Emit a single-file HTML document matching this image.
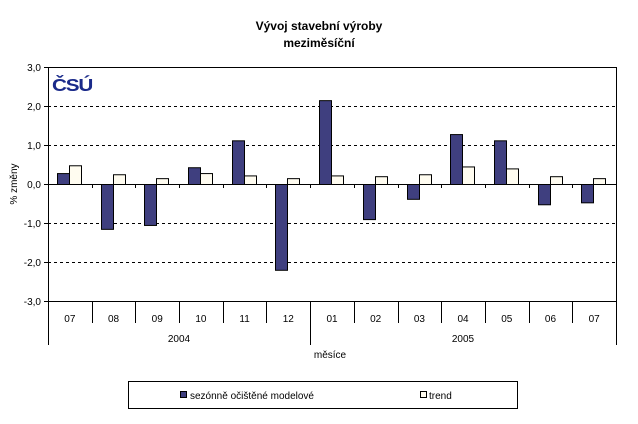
<!DOCTYPE html><html><head><style>body{margin:0;background:#fff}svg{font-family:"Liberation Sans",Arial,sans-serif}</style></head><body>
<svg width="638" height="419" xmlns="http://www.w3.org/2000/svg">
<text x="319" y="30" font-size="12" font-weight="bold" text-anchor="middle">Vývoj stavební výroby</text>
<text x="319" y="47" font-size="12" font-weight="bold" text-anchor="middle">meziměsíční</text>
<g stroke="#000" stroke-dasharray="3,3" stroke-width="1">
<line x1="48" y1="106.5" x2="616" y2="106.5"/><line x1="48" y1="145.5" x2="616" y2="145.5"/>
<line x1="48" y1="223.5" x2="616" y2="223.5"/><line x1="48" y1="262.5" x2="616" y2="262.5"/></g>
<text x="52" y="91" font-size="18" font-weight="bold" fill="#1a2a8a" letter-spacing="-1" transform="translate(52,0) scale(1.15,1) translate(-52,0)">ČSÚ</text>
<g id="bars" stroke="#000" stroke-width="1"></g>
<g stroke="#000" stroke-width="1" fill="none">
<line x1="48.5" y1="67" x2="48.5" y2="345"/>
<line x1="616.5" y1="67" x2="616.5" y2="345"/>
<line x1="44" y1="67.5" x2="616" y2="67.5"/>
<line x1="44" y1="301.5" x2="616" y2="301.5"/>
<line x1="44" y1="184.5" x2="616" y2="184.5"/>
<line x1="44" y1="106.5" x2="48" y2="106.5"/><line x1="44" y1="145.5" x2="48" y2="145.5"/>
<line x1="44" y1="223.5" x2="48" y2="223.5"/><line x1="44" y1="262.5" x2="48" y2="262.5"/>
<line x1="310.5" y1="301" x2="310.5" y2="345"/>
<rect x="128.5" y="381.5" width="389" height="27"/>
</g>
<g id="ticks"></g>
<g font-size="10" text-anchor="end">
<text x="41" y="71">3,0</text><text x="41" y="110">2,0</text><text x="41" y="149">1,0</text><text x="41" y="188">0,0</text>
<text x="41" y="227">-1,0</text><text x="41" y="266">-2,0</text><text x="41" y="305">-3,0</text></g>
<text transform="translate(17,184) rotate(-90)" font-size="10" text-anchor="middle">% změny</text>
<g id="labels" font-size="10" text-anchor="middle"></g>
<text x="179" y="342" font-size="10" text-anchor="middle">2004</text>
<text x="463" y="342" font-size="10" text-anchor="middle">2005</text>
<text x="330" y="358" font-size="10" text-anchor="middle">měsíce</text>
<rect x="180.5" y="391.5" width="6" height="6" fill="#3f3f7f" stroke="#000"/>
<text x="190" y="399" font-size="10">sezónně očištěné modelové</text>
<rect x="420.5" y="391.5" width="6" height="6" fill="#fffcf0" stroke="#000"/>
<text x="429" y="399" font-size="10">trend</text>
<script>
var a=[0.28,-1.15,-1.05,0.43,1.12,-2.2,2.15,-0.9,-0.38,1.28,1.12,-0.52,-0.47];
var t=[0.48,0.25,0.15,0.28,0.22,0.15,0.22,0.2,0.25,0.45,0.4,0.2,0.15];
var m=["07","08","09","10","11","12","01","02","03","04","05","06","07"];
var W=568/13;
var ns="http://www.w3.org/2000/svg",b=document.getElementById("bars"),tk=document.getElementById("ticks"),lb=document.getElementById("labels");
function r(x,v,f){var y0=184.5,h=v*39,e=document.createElementNS(ns,"rect");e.setAttribute("x",x+0.5);e.setAttribute("y",h>0?y0-h:y0);e.setAttribute("width",12);e.setAttribute("height",Math.abs(h));e.setAttribute("fill",f);b.appendChild(e);}
for(var i=0;i<13;i++){var x=48+i*W;r(Math.round(x+9),a[i],"#3f3f7f");r(Math.round(x+21),t[i],"#fffcf0");
if(i<12){var X=Math.round(x+W)+0.5;
var l=document.createElementNS(ns,"line");l.setAttribute("x1",X);l.setAttribute("x2",X);l.setAttribute("y1",184);l.setAttribute("y2",188);l.setAttribute("stroke","#000");tk.appendChild(l);
l=document.createElementNS(ns,"line");l.setAttribute("x1",X);l.setAttribute("x2",X);l.setAttribute("y1",301);l.setAttribute("y2",323);l.setAttribute("stroke","#000");tk.appendChild(l);}
var s=document.createElementNS(ns,"text");s.setAttribute("x",x+W/2);s.setAttribute("y",322);s.textContent=m[i];lb.appendChild(s);}
</script>
</svg></body></html>
